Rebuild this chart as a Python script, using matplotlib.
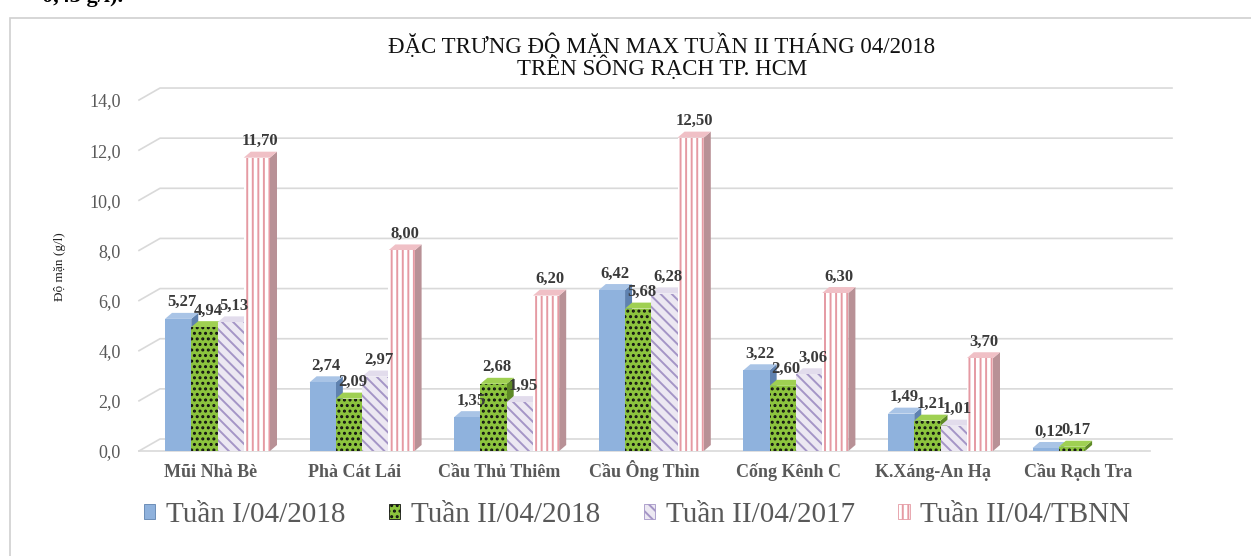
import numpy as np
import matplotlib
matplotlib.use("Agg")
import matplotlib.pyplot as plt
from matplotlib.patches import Polygon, Rectangle, Patch

plt.rcParams["font.family"] = ["Liberation Serif", "DejaVu Serif"]
plt.rcParams["hatch.linewidth"] = 1.4

STATIONS = ["Mũi Nhà Bè", "Phà Cát Lái", "Cầu Thủ Thiêm", "Cầu Ông Thìn",
            "Cống Kênh C", "K.Xáng-An Hạ", "Cầu Rạch Tra"]
TUAN1_2018 = [5.27, 2.74, 1.35, 6.42, 3.22, 1.49, 0.12]
TUAN2_2018 = [4.94, 2.09, 2.68, 5.68, 2.60, 1.21, 0.17]
TUAN2_2017 = [5.13, 2.97, 1.95, 6.28, 3.06, 1.01, np.nan]
TUAN2_TBNN = [11.70, 8.00, 6.20, 12.50, 6.30, 3.70, np.nan]
SERIES_NAMES = ["Tuần I/04/2018", "Tuần II/04/2018", "Tuần II/04/2017", "Tuần II/04/TBNN"]
Y_TICKS = [0, 2, 4, 6, 8, 10, 12, 14]

# face, hatch colour, hatch, side, top
STYLES = [
    ("#8FB2DD", "#8FB2DD", None, "#5F82B0", "#A9C4E6"),
    ("#8CC43E", "#111111", "...", "#5E8A26", "#9FD052"),
    ("#ECE8F2", "#A495C6", "\\\\\\", "#B9AED2", "#E2DCEC"),
    ("#FFFFFF", "#E59AA3", "|||", "#B89196", "#F0C0C6"),
]

W, H, DPI = 1251, 556, 100
fig = plt.figure(figsize=(W / DPI, H / DPI), dpi=DPI)

# chart frame
fig.patches.append(Rectangle((10 / W, -0.05), 1.1, 1 - 18 / H + 0.05, transform=fig.transFigure,
                             fill=False, edgecolor="#D0D0D0", linewidth=1.2))
fig.text(42 / W, 1.0 + 3 / H, "0,43 g/l).", fontsize=16, fontweight="bold", va="center", ha="left")

# axes: front zero at y=451px, 25.07 px per unit; category centers at 217.5 + 144.6*i
px_unit = 25.07
cat_px = 144.6
x_left, x_right = 139, 1172
y_bot, y_top = 451, 80
ax = fig.add_axes([x_left / W, 1 - y_bot / H, (x_right - x_left) / W, (y_bot - y_top) / H])
xl = (x_left - 217.5) / cat_px
xr = (x_right - 217.5) / cat_px
ax.set_xlim(xl, xr)
ax.set_ylim(0, (y_bot - y_top) / px_unit)
for s in ax.spines.values():
    s.set_visible(False)

# back-wall gridlines with 3D slant
gdx, gdy = 21 / cat_px, 12 / px_unit
for v in Y_TICKS:
    ax.plot([xl, xl + gdx, xr], [v, v + gdy, v + gdy], color="#D9D9D9", lw=1.2,
            clip_on=False, zorder=0)
ax.plot([xl, (1150 - 217.5) / cat_px], [0, 0], color="#D9D9D9", lw=1.2, clip_on=False, zorder=0)

ax.set_yticks(Y_TICKS)
ax.set_yticklabels([f"{v:.1f}".replace(".", ",") for v in Y_TICKS], fontsize=13, color="#595959")
ax.tick_params(axis="y", length=0, pad=13)
ax.set_xticks([])
for i, name in enumerate(STATIONS):
    ax.text(i - 0.05, -26 / px_unit, name, ha="center", va="baseline", fontsize=13,
            fontweight="bold", color="#595959")

fig.text(60 / W, 1 - 267 / H, "Độ mặn (g/l)", rotation=90, ha="center", va="center",
         fontsize=9.5, color="#222222")

fig.text(662 / W, 1 - 57 / H, "ĐẶC TRƯNG ĐỘ MẶN MAX TUẦN II THÁNG 04/2018\nTRÊN SÔNG RẠCH TP. HCM",
         ha="center", va="center", fontsize=16.5, linespacing=0.88, color="#111111")

# 3D-looking bars
bw = 26.25 / cat_px
bdx, bdy = 7 / cat_px, 6 / px_unit
x = np.arange(len(STATIONS))
all_series = [TUAN1_2018, TUAN2_2018, TUAN2_2017, TUAN2_TBNN]
for k, (vals, st) in enumerate(zip(all_series, STYLES)):
    face, hcol, hatch, side, top = st
    off = (k - 1.5) * bw
    z = 2 + k
    for i, v in enumerate(vals):
        if np.isnan(v):
            continue
        x0 = x[i] + off - bw / 2
        x1 = x0 + bw
        ax.add_patch(Polygon([(x1, 0), (x1 + bdx, bdy), (x1 + bdx, v + bdy), (x1, v)],
                             closed=True, facecolor=side, edgecolor="none", zorder=z))
        ax.add_patch(Polygon([(x0, v), (x1, v), (x1 + bdx, v + bdy), (x0 + bdx, v + bdy)],
                             closed=True, facecolor=top, edgecolor="none", zorder=z))
        ax.bar(x0 + bw / 2, v, width=bw, color=face, zorder=z)
        if hatch:
            ax.bar(x0 + bw / 2, v, width=bw, color="none", edgecolor=hcol, hatch=hatch,
                   linewidth=0, zorder=z)
        ax.text(x0 + bw / 2 + bdx / 2, v + bdy + 0.1, f"{v:.2f}".replace(".", ","),
                ha="center", va="bottom", fontsize=12, fontweight="bold", color="#3A3A3A",
                zorder=10)

handles = []
for st in STYLES:
    face, hcol, hatch, side, top = st
    handles.append(Patch(facecolor=face, edgecolor=hcol if hatch else side, hatch=hatch, linewidth=0.6))
fig.legend(handles, SERIES_NAMES, loc="center", bbox_to_anchor=(637 / W, 1 - 515 / H), ncol=4,
           frameon=False, fontsize=21, labelcolor="#595959", handlelength=0.4, handleheight=0.4,
           handletextpad=0.35, columnspacing=1.5)

fig.savefig("out.png", dpi=DPI)
